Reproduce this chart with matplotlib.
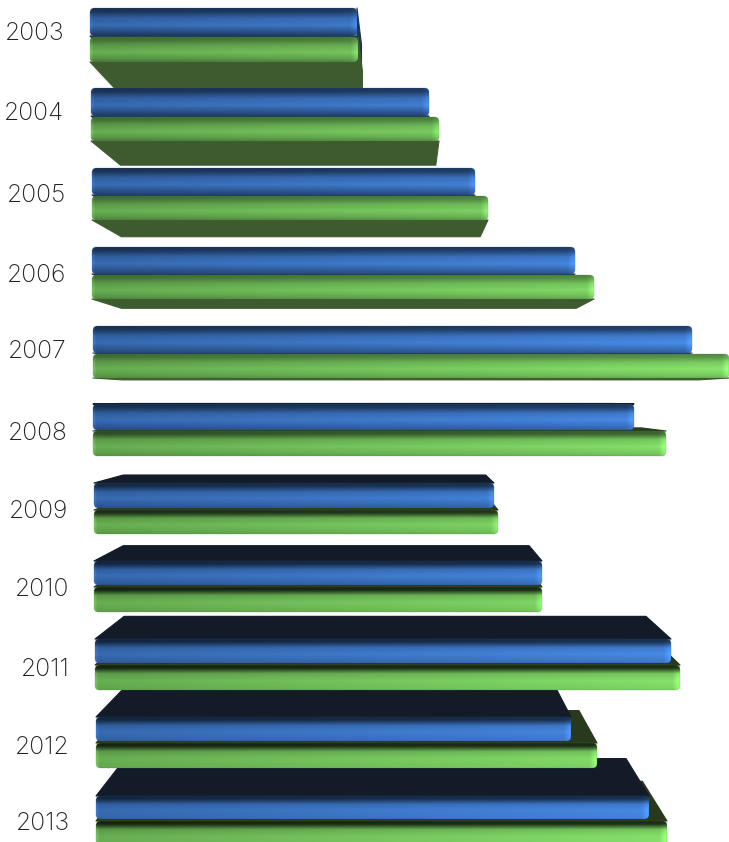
import numpy as np
import matplotlib
matplotlib.use("Agg")
import matplotlib.pyplot as plt
from matplotlib.patches import FancyBboxPatch, Polygon

years = [2003, 2004, 2005, 2006, 2007, 2008, 2009, 2010, 2011, 2012, 2013]
blue_values = [267, 338, 383, 483, 599, 541, 400, 448, 576, 475, 553]
green_values = [268, 348, 396, 502, 636, 573, 404, 448, 585, 501, 571]

# Front-plane geometry of each row, in pixels of the canvas
row_left = [90, 91, 92, 92, 93, 93, 94, 94, 95, 96, 96]
blue_top = [8, 88, 168, 247, 326, 404, 483, 561, 639, 717, 796]
blue_bot = [36, 116, 195, 274, 353, 430, 508, 585, 663, 741, 819]
green_top = [37, 117, 196, 275, 354, 431, 510, 587, 665, 743, 821]
green_bot = [62, 141, 220, 299, 378, 456, 534, 612, 690, 768, 846]
label_right = [65, 64, 66, 66, 67, 68, 68, 69, 70, 70, 70]
label_y = [33, 114, 195, 275, 352, 433, 511, 589, 669, 747, 823]

VANISH = np.array([405.0, 398.0])
DEPTH = 0.906

BLUE = dict(base=np.array([0.235, 0.455, 0.76]), top="#131b28", bottom="#1c3458", side="#1c3458")
GREEN = dict(base=np.array([0.44, 0.74, 0.35]), top="#29391b", bottom="#3e5b2f", side="#3e5b2f")

W, H = 729, 842
fig = plt.figure(figsize=(W / 100, H / 100), dpi=100)
ax = fig.add_axes([0, 0, 1, 1])
ax.axis("off")


def far(x, y):
    p = np.array([x, y], dtype=float)
    return VANISH + DEPTH * (p - VANISH)


def draw_depth(x0, x1, y0, y1, style):
    a, b, c, d = (x0, y0), (x1, y0), (x1, y1), (x0, y1)
    fa, fb, fc, fd = far(*a), far(*b), far(*c), far(*d)
    # Only the faces turned toward the viewer are drawn
    faces = []
    if x1 < VANISH[0]:
        faces.append(((b, c, fc, fb), style["side"]))
    if y0 > VANISH[1]:
        faces.append(((a, b, fb, fa), style["top"]))
    if y1 < VANISH[1]:
        faces.append(((d, c, fc, fd), style["bottom"]))
    for pts, col in faces:
        ax.add_patch(Polygon(pts, closed=True, fc=col, ec=col, lw=0.8, joinstyle="round", zorder=2))


def draw_front(x0, x1, y0, y1, style, is_green):
    rows = 64
    cols = max(int(x1 - x0), 8)
    t = np.linspace(0, 1, rows)
    lat = np.clip(((y0 + y1) / 2 - 365) / 455, -1, 1)
    if is_green:
        top_shade = 0.60 - 0.42 * np.clip(lat * 2.5, 0, 1)
        bot_shade = 0.62 + 0.36 * (lat + 1) / 2
        stops = [0, 0.12, 0.34, 0.62, 0.86, 1]
    else:
        top_shade = 0.44 - 0.12 * np.clip(lat * 2.5, 0, 1)
        bot_shade = 0.42 + 0.52 * (lat + 1) / 2
        stops = [0, 0.12, 0.36, 0.62, 0.82, 1]
    mid_low = (bot_shade + 1) / 2
    profile = np.interp(t, stops, [top_shade, top_shade + 0.05, 0.88, 1.0, mid_low, bot_shade])
    xs = np.linspace(x0, x1, cols)
    # Light falls from the right, so the faces brighten across the canvas
    across = 0.92 + 0.30 * (xs - 90) / 640
    end_glow = 1 + 0.20 * np.clip((xs - (x1 - 7)) / 7, 0, 1)
    left_fade = 1 + 0.18 * np.clip((x0 + 3 - xs) / 3, 0, 1)
    shade = profile[:, None] * (across * end_glow * left_fade)[None, :]
    img = np.clip(shade[:, :, None] * style["base"], 0, 1)
    im = ax.imshow(img, extent=(x0, x1, y1, y0), aspect="auto", interpolation="bilinear", zorder=3)
    box = FancyBboxPatch((x0 + 4, y0 + 4), x1 - x0 - 8, y1 - y0 - 8,
                         boxstyle="round,pad=4,rounding_size=4.5", transform=ax.transData,
                         fc="none", ec="none")
    ax.add_patch(box)
    im.set_clip_path(box)
    ax.add_patch(FancyBboxPatch((x0 + 4, y0 + 4), x1 - x0 - 8, y1 - y0 - 8,
                                boxstyle="round,pad=4,rounding_size=4.5",
                                fc="none", ec=tuple(style["base"] * 0.7), lw=0.5, alpha=0.35, zorder=4))


bars = []
for i in range(len(years)):
    left = row_left[i]
    bars.append((left, left + blue_values[i], blue_top[i], blue_bot[i], BLUE, False))
    bars.append((left, left + green_values[i], green_top[i], green_bot[i], GREEN, True))

# Depth faces farthest from the vanishing point go down first
for b in sorted(bars, key=lambda r: -abs((r[2] + r[3]) / 2 - VANISH[1])):
    draw_depth(b[0], b[1], b[2], b[3], b[4])
for b in bars:
    draw_front(b[0], b[1], b[2], b[3], b[4], b[5])

for yr, xr, yc in zip(years, label_right, label_y):
    ax.text(xr, yc, str(yr), ha="right", va="center", fontsize=17.8, family="Inter",
            fontweight="light", color="#222222", zorder=5)

ax.set_xlim(0, W)
ax.set_ylim(H, 0)
fig.savefig("out.png", dpi=100, facecolor="white")
